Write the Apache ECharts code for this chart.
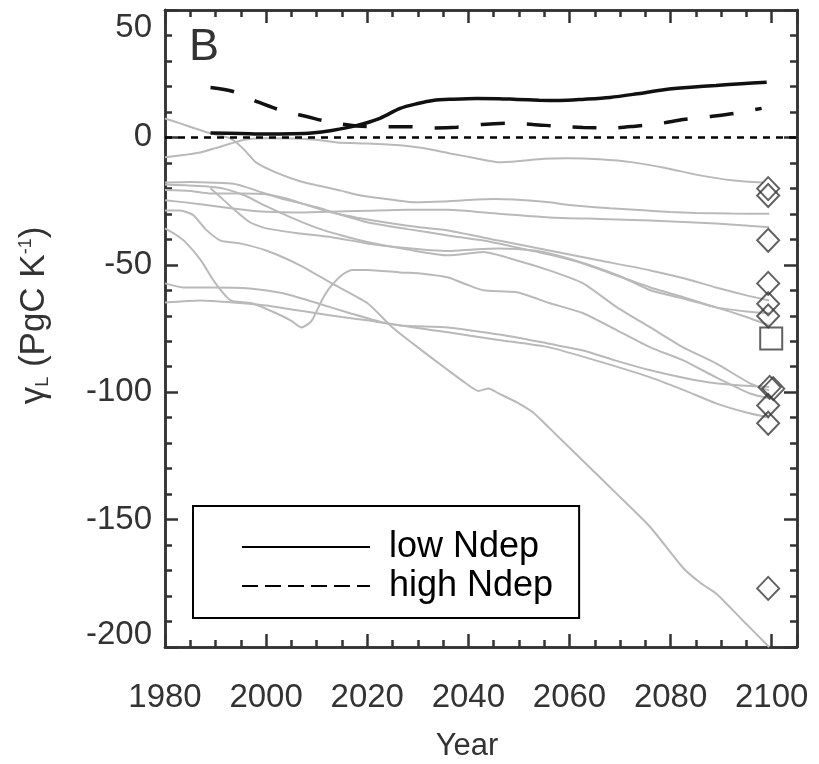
<!DOCTYPE html>
<html>
<head>
<meta charset="utf-8">
<script src="https://cdn.jsdelivr.net/npm/echarts@6/dist/echarts.min.js"></script>
<style>html,body{margin:0;padding:0;background:#fff}#c{width:819px;height:764px}</style>
</head>
<body>
<div id="c"></div>
<script>
// ---- data ----
const xTicks = [1980, 2000, 2020, 2040, 2060, 2080, 2100];
const yTicks = [-200, -150, -100, -50, 0, 50];

const lowNdep = [[1989,1.7],[1995,1.5],[2000,1.3],[2005,1.4],[2009,1.7],[2013,2.7],[2018,4.7],[2022.5,7.5],[2026.5,11.4],[2030,13.3],[2033,14.5],[2037,15],[2041.7,15.3],[2046,15.2],[2049.6,14.9],[2054,14.6],[2058,14.5],[2063,15],[2068,15.7],[2073,17],[2079,18.8],[2084,19.7],[2089,20.4],[2094,21.1],[2099,21.6]];
const highNdep = [[1989,19.6],[1993.5,18],[1998.5,13.8],[2003,10.6],[2008,8.2],[2012.6,6],[2018,4.5],[2023,4.2],[2028,4.2],[2033,3.7],[2037.7,4],[2042.7,5.1],[2048,5.6],[2052.8,5.1],[2058,4.3],[2062.7,3.9],[2068,3.7],[2072.6,4.3],[2078,5.5],[2082.5,7],[2087.8,8.2],[2092.4,9.4],[2098,11.4]];

const model1 = [[1980,7.4],[1983,5.5],[1986,3.5],[1989,1.6],[1993,-0.5],[1995.5,-4.5],[1998,-9.8],[2002,-13.8],[2006.7,-17.2],[2010,-18.8],[2014.6,-20.8],[2018,-22.5],[2021,-23.5],[2025,-24.5],[2029.6,-25.5],[2035,-25.2],[2040,-24.6],[2045,-24.2],[2049,-24.4],[2055,-25.3],[2061,-26.7],[2068,-27.8],[2074.6,-28.6],[2080,-29.3],[2085,-29.7],[2092,-29.9],[2099.5,-30]];
const model2 = [[1980,-7.8],[1984,-6.8],[1987,-5.9],[1990,-4.2],[1993,-2.4],[1996,-0.8],[2000,-0.3],[2005,-0.4],[2010,-0.9],[2014,-2],[2020,-2.4],[2026.5,-3.1],[2031,-4.2],[2036.4,-6.3],[2041,-8],[2046.3,-9.8],[2050,-9.3],[2055,-8.4],[2059.5,-8.2],[2066,-8.6],[2072.6,-9.8],[2079,-12],[2085.8,-14.9],[2092,-16.8],[2098.3,-17.7]];
const model3 = [[1980,-24.7],[1984,-25.5],[1990,-27],[1996,-28.5],[2000,-29.2],[2006,-29.5],[2012,-29.2],[2020,-28.8],[2028,-28.4],[2036,-28.4],[2046,-30],[2056,-31.4],[2066,-32],[2076,-32.6],[2089,-33.8],[2099.5,-35.3]];
const model4 = [[1980,-20.6],[1985,-21],[1989,-22],[1995,-22],[2000,-22.3],[2004,-24],[2008,-26.5],[2013,-29.5],[2018,-31.5],[2025,-33.8],[2030,-35.2],[2036,-36.5],[2046,-40.5],[2056,-44.4],[2066,-48.3],[2076,-52.2],[2083,-55.5],[2089,-58.9],[2095,-62],[2099.5,-64]];
const model5 = [[1980,-17.7],[1985,-17.5],[1990,-17.8],[1993.5,-18.2],[1996,-19.5],[1999,-21.5],[2004,-24.5],[2010,-27.4],[2015,-30.5],[2020,-33.3],[2028,-36],[2036,-38.5],[2043,-40.5],[2049.6,-43.2],[2056,-46],[2062.7,-49.5],[2069,-54],[2076,-58.9],[2083,-63],[2089,-66.7],[2095,-68.3],[2099.5,-69]];
const model6 = [[1989,-20],[1991,-23.5],[1993.5,-28],[1996.8,-33.3],[2000,-35.7],[2006.7,-37.7],[2013,-39.2],[2020,-41.6],[2026.5,-43.2],[2036,-44.6],[2041,-44],[2046,-43.6],[2053,-44.4],[2058,-46.5],[2063,-49.5],[2070,-54.5],[2076,-60],[2083,-63.5],[2089,-66.7],[2095,-70.5],[2099.5,-73.8]];
const model7 = [[1980,-18.5],[1984,-18.8],[1988,-19.2],[1992,-20.3],[1996,-23],[2000,-27],[2005,-31.5],[2010,-35.5],[2015,-38.5],[2020,-41],[2028,-44],[2036,-46.3],[2043,-45],[2049.6,-48.3],[2056,-52.2],[2062.7,-57.3],[2069.4,-66.7],[2076,-74.6],[2082.5,-82.4],[2089,-88.7],[2095.7,-96.5],[2099.5,-99.3]];
const model8 = [[1980,-35.7],[1982,-38],[1984,-41],[1987,-48],[1990,-57.3],[1993,-64],[1997,-65],[2002,-69],[2005,-72],[2007,-74.6],[2009,-72],[2011,-64],[2012.6,-59],[2015,-54],[2017,-52],[2020,-52],[2026.5,-53],[2031,-53.5],[2036,-55],[2040,-58],[2043,-60],[2049.6,-60.8],[2056,-65],[2062.7,-69],[2069.4,-75.7],[2076,-82.4],[2082.5,-87.5],[2089,-94.2],[2095.7,-100.5],[2099.5,-102.4]];
const model9 = [[1980,-64.8],[1987,-64],[1993.5,-64.8],[2000,-66],[2005,-67.5],[2010,-69],[2015,-70.5],[2020,-71.8],[2026.5,-73.8],[2036,-74.6],[2043,-76.5],[2049.6,-78.5],[2056,-81],[2062.7,-83.6],[2069,-87.5],[2076,-91.4],[2083,-94.5],[2089,-96.5],[2095,-97.5],[2099.5,-98]];
const model10 = [[1980,-57.3],[1983.6,-58.9],[1989,-58.9],[1996.8,-59.3],[2003.4,-61.2],[2010,-65],[2016.6,-69],[2023,-72.6],[2030,-74.8],[2036,-76.5],[2046,-79.5],[2056,-82.4],[2066,-88],[2076,-94.2],[2083,-99.5],[2089,-104.4],[2095,-108],[2099.5,-110]];
const model11 = [[1980,-28.7],[1983,-28.7],[1985.6,-30.5],[1988,-36],[1991,-40.5],[1994.8,-41.6],[2000,-44.4],[2006.7,-50.2],[2013,-57.3],[2020,-65],[2025,-74.6],[2030,-82.4],[2036,-91.4],[2039.5,-96.5],[2042,-99.5],[2044,-98.5],[2046,-100.5],[2049.6,-104],[2052.8,-108],[2056,-114],[2062.7,-127],[2069.4,-140],[2076,-153],[2082.5,-169],[2086,-175],[2089,-179],[2094,-189],[2099.5,-200]];
const modelLines = [model1, model2, model3, model4, model5, model6, model7, model8, model9, model10, model11];

const diamondYears  = [2099.3, 2099.3, 2099.3, 2099.3, 2099.3, 2099.3, 2099.6, 2100.3, 2099.3, 2099.3, 2099.3];
const diamondValues = [-20.1, -22.8, -40.4, -57.3, -65.3, -70.1, -98.1, -98.6, -105.2, -112.2, -177];
const squareYears  = [2099.9];
const squareValues = [-78.9];

// ---- chart ----
const FONT = '"Liberation Sans", Arial, Helvetica, sans-serif';
const DARK = '#333';
const chart = echarts.init(document.getElementById('c'), null, {renderer: 'canvas'});

function xAx(pos, interval, len, labels) {
  return {
    type: 'value', position: pos, min: 1980, max: 2105, interval: interval,
    axisLine: {show: true, onZero: false, lineStyle: {color: DARK, width: 2.5}},
    axisTick: {show: true, inside: true, length: len, lineStyle: {color: DARK, width: 2.5}},
    axisLabel: labels ? {
      show: true, margin: 34, fontSize: 33, color: DARK, fontFamily: FONT,
      formatter: v => xTicks.indexOf(v) >= 0 ? String(v) : ''
    } : {show: false},
    splitLine: {show: false}
  };
}
function yAx(pos, interval, len, labels) {
  return {
    type: 'value', position: pos, min: -200, max: 50, interval: interval,
    axisLine: {show: true, onZero: false, lineStyle: {color: DARK, width: 2.5}},
    axisTick: {show: true, inside: true, length: len, lineStyle: {color: DARK, width: 2.5}},
    axisLabel: labels ? {
      show: true, margin: 13, fontSize: 33, color: DARK, fontFamily: FONT,
      formatter: v => {
        if (yTicks.indexOf(v) < 0) return '';
        if (v === 50) return '{t|' + v + '}';
        if (v === -200) return '{b|' + v + '}';
        return '{n|' + v + '}';
      },
      rich: {
        t: {fontSize: 33, color: DARK, fontFamily: FONT, padding: [36, 0, 0, 0]},
        b: {fontSize: 33, color: DARK, fontFamily: FONT, padding: [0, 0, 24, 0]},
        n: {fontSize: 33, color: DARK, fontFamily: FONT}
      }
    } : {show: false},
    splitLine: {show: false}
  };
}

const xAxes = [xAx('bottom', 20, 13, true), xAx('bottom', 5, 7, false), xAx('top', 20, 13, false), xAx('top', 5, 7, false)];
xAxes[0].name = 'Year';
xAxes[0].nameLocation = 'middle';
xAxes[0].nameGap = 84;
xAxes[0].nameTextStyle = {fontSize: 31, color: DARK, fontFamily: FONT, padding: [0, 28, 0, 0]};

const yAxes = [yAx('left', 50, 13, true), yAx('left', 10, 7, false), yAx('right', 50, 13, false), yAx('right', 10, 7, false)];
yAxes[0].name = '{g|γ}{s|L}{n| (PgC K}{p|-1}{n|)}';
yAxes[0].nameLocation = 'middle';
yAxes[0].nameGap = 113;
yAxes[0].nameTextStyle = {
  color: DARK, fontFamily: FONT, fontSize: 35, padding: [0, 0, 0, 26],
  rich: {
    g: {fontSize: 35, color: DARK, fontFamily: FONT},
    s: {fontSize: 18, color: DARK, fontFamily: FONT, verticalAlign: 'bottom'},
    n: {fontSize: 35, color: DARK, fontFamily: FONT},
    p: {fontSize: 18, color: DARK, fontFamily: FONT, verticalAlign: 'top'}
  }
};

const series = [];
modelLines.forEach((d, i) => {
  series.push({
    name: 'model' + (i + 1), type: 'line', data: d, symbol: 'none', smooth: 0.2,
    lineStyle: {color: '#b9b9b9', width: 2}, z: 2, silent: true
  });
});
series.push({
  name: 'diamonds', type: 'scatter', data: diamondYears.map((x, i) => [x, diamondValues[i]]),
  symbol: 'diamond', symbolSize: [22, 23],
  itemStyle: {color: 'rgba(0,0,0,0)', borderColor: '#3a3a3a', borderWidth: 2}, z: 4
});
series.push({
  name: 'square', type: 'scatter', data: squareYears.map((x, i) => [x, squareValues[i]]),
  symbol: 'rect', symbolSize: 22,
  itemStyle: {color: 'rgba(0,0,0,0)', borderColor: '#3a3a3a', borderWidth: 2}, z: 4
});
series.push({
  name: 'high Ndep', type: 'line', data: highNdep, symbol: 'none', smooth: 0.3,
  itemStyle: {color: '#111'},
  lineStyle: {color: '#111', width: 3.5, type: [24, 22]}, z: 5
});
series.push({
  name: 'low Ndep', type: 'line', data: lowNdep, symbol: 'none', smooth: 0.3,
  itemStyle: {color: '#111'},
  lineStyle: {color: '#111', width: 3.5}, z: 5,
  markLine: {
    silent: true, symbol: ['none', 'none'], label: {show: false},
    lineStyle: {color: '#000', width: 2.5, type: [7, 6]},
    data: [{yAxis: 0}]
  }
});

chart.setOption({
  animation: false,
  backgroundColor: '#fff',
  grid: {left: 165, right: 22, top: 10, bottom: 117, containLabel: false, outerBoundsMode: 'none'},
  xAxis: xAxes,
  yAxis: yAxes,
  legend: {
    orient: 'vertical', left: 193, top: 506,
    padding: [23, 26, 14, 48], itemGap: 3, itemWidth: 128, itemHeight: 14,
    borderColor: '#000', borderWidth: 2, backgroundColor: '#fff',
    textStyle: {fontSize: 36, color: '#000', fontFamily: FONT, padding: [0, 0, 0, 14]},
    data: [
      {name: 'low Ndep', itemStyle: {opacity: 0}, lineStyle: {color: '#000', width: 2, type: 'solid'}},
      {name: 'high Ndep', itemStyle: {opacity: 0}, lineStyle: {color: '#000', width: 2, type: [16, 7]}}
    ]
  },
  graphic: [{
    type: 'text', left: 189, top: 25,
    style: {text: 'B', fontSize: 45, fill: DARK, font: '45px ' + FONT}
  }],
  series: series
});
</script>
</body>
</html>
